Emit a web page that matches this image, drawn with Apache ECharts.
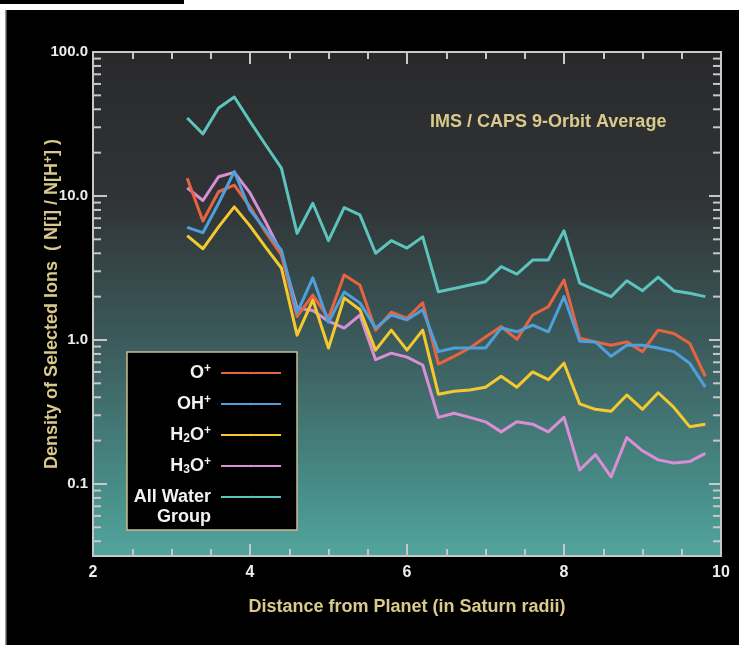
<!DOCTYPE html>
<html>
<head>
<meta charset="utf-8">
<script src="https://cdn.jsdelivr.net/npm/echarts@6/dist/echarts.min.js"></script>
<style>
html,body{margin:0;padding:0;background:#000;}
#chart{width:739px;height:645px;}
</style>
</head>
<body>
<div id="chart"></div>
<script>
// ---- Data ----
const distances = [3.2,3.4,3.6,3.8,4.0,4.2,4.4,4.6,4.8,5.0,5.2,5.4,5.6,5.8,6.0,6.2,6.4,6.6,6.8,7.0,7.2,7.4,7.6,7.8,8.0,8.2,8.4,8.6,8.8,9.0,9.2,9.4,9.6,9.8];
const oPlus   = [13.3,6.7,10.7,11.9,8.4,5.6,3.9,1.45,2.05,1.42,2.83,2.41,1.17,1.56,1.42,1.81,0.68,0.77,0.88,1.05,1.24,1.01,1.49,1.70,2.61,1.03,0.97,0.92,0.97,0.83,1.17,1.11,0.95,0.56];
const ohPlus  = [6.06,5.56,8.9,14.8,8.0,5.8,4.2,1.54,2.7,1.33,2.15,1.81,1.21,1.49,1.38,1.62,0.83,0.88,0.88,0.88,1.21,1.14,1.27,1.14,2.0,0.98,0.97,0.77,0.92,0.92,0.88,0.83,0.69,0.47];
const h2oPlus = [5.3,4.3,6.1,8.4,6.2,4.4,3.16,1.08,1.90,0.88,1.96,1.62,0.85,1.17,0.85,1.17,0.42,0.44,0.45,0.47,0.56,0.47,0.60,0.53,0.69,0.36,0.33,0.32,0.415,0.33,0.43,0.34,0.25,0.26];
const h3oPlus = [11.4,9.3,13.6,14.6,10.5,6.6,4.0,1.66,1.6,1.35,1.21,1.49,0.73,0.81,0.76,0.67,0.29,0.31,0.29,0.27,0.23,0.27,0.26,0.23,0.29,0.125,0.16,0.112,0.21,0.17,0.147,0.14,0.143,0.163];
const allWater = [34.8,27.0,40.8,48.7,33,22.6,15.6,5.5,8.9,4.9,8.3,7.4,4.0,4.9,4.35,5.2,2.16,2.28,2.41,2.54,3.23,2.87,3.59,3.59,5.74,2.48,2.22,2.0,2.58,2.2,2.73,2.2,2.11,2.0];

const seriesNames = ['O+','OH+','H2O+','H3O+','All Water Group'];
const legendLabels = {
  'O+': 'O{sup|+}',
  'OH+': 'OH{sup|+}',
  'H2O+': 'H{sub|2}O{sup|+}',
  'H3O+': 'H{sub|3}O{sup|+}',
  'All Water Group': 'All Water\nGroup'
};
const xMin = 2, xMax = 10, xInterval = 2;
const yMin = 0.0316, yMax = 100;
const yMinorTicks = [0.04,0.05,0.06,0.07,0.08,0.09, 0.2,0.3,0.4,0.5,0.6,0.7,0.8,0.9, 2,3,4,5,6,7,8,9, 20,30,40,50,60,70,80,90];
const xTitle = 'Distance from Planet (in Saturn radii)';
const yTitle = 'Density of Selected Ions  ( N[i] / N[H{sup|+}] )';
const annotation = 'IMS / CAPS 9-Orbit Average';

// ---- Styles ----
const FONT = "'Liberation Sans', Arial, Helvetica, sans-serif";
const KHAKI = '#d9ca8c';
const FRAME = '#c8c8c8';
const colors = {
  'O+': '#e8633f',
  'OH+': '#4f9fdb',
  'H2O+': '#f4c92f',
  'H3O+': '#d98fd4',
  'All Water Group': '#5cc3bd'
};
const valuesByName = {
  'O+': oPlus, 'OH+': ohPlus, 'H2O+': h2oPlus, 'H3O+': h3oPlus, 'All Water Group': allWater
};
const drawOrder = ['All Water Group','H3O+','H2O+','O+','OH+'];

const richLegend = {
  sup: {fontSize: 12, lineHeight: 12, verticalAlign: 'top', fontWeight: 'bold', color: '#f2f2f2', fontFamily: FONT},
  sub: {fontSize: 12, lineHeight: 12, verticalAlign: 'bottom', fontWeight: 'bold', color: '#f2f2f2', fontFamily: FONT}
};

function yLabel(v) {
  if (v >= 1) return v.toFixed(1);
  return String(+v.toPrecision(2));
}

const chart = echarts.init(document.getElementById('chart'));

const lineSeries = drawOrder.map(name => ({
  name: name,
  type: 'line',
  data: distances.map((d, i) => [d, valuesByName[name][i]]),
  symbol: 'none',
  color: colors[name],
  lineStyle: {width: 3, color: colors[name], join: 'round'},
  z: 3
}));

const tickStyle = {color: FRAME, width: 2};

chart.setOption({
  backgroundColor: '#000',
  animation: false,
  graphic: [
    {type: 'rect', shape: {x: 0, y: 0, width: 739, height: 10}, style: {fill: '#fff'}, z: 100},
    {type: 'rect', shape: {x: 0, y: 0, width: 184, height: 4}, style: {fill: '#000'}, z: 101},
    {type: 'rect', shape: {x: 0, y: 0, width: 5, height: 645}, style: {fill: '#fff'}, z: 100},
    {type: 'rect', shape: {x: 5, y: 10, width: 1.5, height: 635}, style: {fill: '#9a9a9a'}, z: 100}
  ],
  title: {
    text: annotation,
    left: 430, top: 113, padding: 0,
    textStyle: {color: KHAKI, fontSize: 18, fontWeight: 'bold', fontFamily: FONT}
  },
  grid: {
    left: 93, right: 18, top: 52, bottom: 89,
    show: true,
    borderColor: FRAME, borderWidth: 2,
    backgroundColor: {
      type: 'linear', x: 0, y: 0, x2: 0, y2: 1,
      colorStops: [
        {offset: 0, color: '#29292b'},
        {offset: 0.3, color: '#303436'},
        {offset: 0.6, color: '#3d5e5f'},
        {offset: 0.85, color: '#478a85'},
        {offset: 1, color: '#51a59d'}
      ]
    }
  },
  legend: [
    {
      orient: 'vertical', right: 442, top: 352,
      align: 'right', itemWidth: 60, itemHeight: 3, itemGap: 11,
      padding: [11, 15, 54, 4],
      backgroundColor: '#000', borderColor: '#c9bf8e', borderWidth: 1.5,
      data: ['O+','OH+','H2O+','H3O+'],
      formatter: n => legendLabels[n],
      textStyle: {color: '#f2f2f2', fontSize: 18, fontWeight: 'bold', fontFamily: FONT, lineHeight: 20, width: 80, padding: [0, 5, 0, 0], rich: richLegend}
    },
    {
      orient: 'vertical', right: 442, top: 467, z: 6,
      align: 'right', itemWidth: 60, itemHeight: 3, itemGap: 11,
      padding: [0, 15, 0, 4],
      data: ['All Water Group'],
      formatter: n => legendLabels[n],
      textStyle: {color: '#f2f2f2', fontSize: 18, fontWeight: 'bold', fontFamily: FONT, lineHeight: 20, width: 80, padding: [20, 5, 0, 0], rich: richLegend}
    }
  ],
  xAxis: [
    {
      type: 'value', position: 'bottom', min: xMin, max: xMax, interval: xInterval,
      name: xTitle, nameLocation: 'middle', nameGap: 42,
      nameTextStyle: {color: KHAKI, fontSize: 18, fontWeight: 'bold', fontFamily: FONT},
      axisLine: {show: true, lineStyle: {color: FRAME, width: 2}},
      axisTick: {show: true, inside: true, length: 12, lineStyle: tickStyle},
      minorTick: {show: true, splitNumber: 4, length: 7, lineStyle: tickStyle},
      splitLine: {show: false}, minorSplitLine: {show: false},
      axisLabel: {color: '#ececec', fontSize: 16, fontWeight: 'bold', fontFamily: FONT, margin: 9}
    },
    {
      type: 'value', position: 'top', min: xMin, max: xMax, interval: xInterval,
      axisLine: {show: true, lineStyle: {color: FRAME, width: 2}},
      axisTick: {show: true, inside: true, length: 12, lineStyle: tickStyle},
      minorTick: {show: true, splitNumber: 4, length: 7, lineStyle: tickStyle},
      splitLine: {show: false}, minorSplitLine: {show: false},
      axisLabel: {show: false}
    }
  ],
  yAxis: [
    {
      type: 'log', logBase: 10, position: 'left', min: yMin, max: yMax,
      name: yTitle, nameLocation: 'middle', nameGap: 32, nameMoveOverlap: false,
      nameTextStyle: {color: KHAKI, fontSize: 18, fontWeight: 'bold', fontFamily: FONT,
        rich: {sup: {fontSize: 12, verticalAlign: 'top', lineHeight: 12, color: KHAKI, fontWeight: 'bold', fontFamily: FONT}}},
      axisLine: {show: true, lineStyle: {color: FRAME, width: 2}},
      axisTick: {show: true, inside: true, length: 14, lineStyle: tickStyle},
      splitLine: {show: false},
      axisLabel: {color: '#ececec', fontSize: 15, fontWeight: 'bold', fontFamily: FONT, margin: 5,
        showMinLabel: false, formatter: yLabel}
    },
    {
      type: 'log', logBase: 10, position: 'right', min: yMin, max: yMax,
      axisLine: {show: true, lineStyle: {color: FRAME, width: 2}},
      axisTick: {show: true, inside: true, length: 12, lineStyle: tickStyle},
      splitLine: {show: false},
      axisLabel: {show: false}
    }
  ],
  series: lineSeries.concat([{
    type: 'custom',
    name: 'yMinorTicks',
    silent: true,
    clip: false,
    z: 5,
    data: yMinorTicks.map(v => [xMin, v]),
    renderItem: function (params, api) {
      const cs = params.coordSys;
      const y = api.coord([api.value(0), api.value(1)])[1];
      return {
        type: 'group',
        children: [
          {type: 'line', shape: {x1: cs.x, y1: y, x2: cs.x + 8, y2: y}, style: {stroke: FRAME, lineWidth: 2}},
          {type: 'line', shape: {x1: cs.x + cs.width, y1: y, x2: cs.x + cs.width - 8, y2: y}, style: {stroke: FRAME, lineWidth: 2}}
        ]
      };
    }
  }])
});
</script>
</body>
</html>
